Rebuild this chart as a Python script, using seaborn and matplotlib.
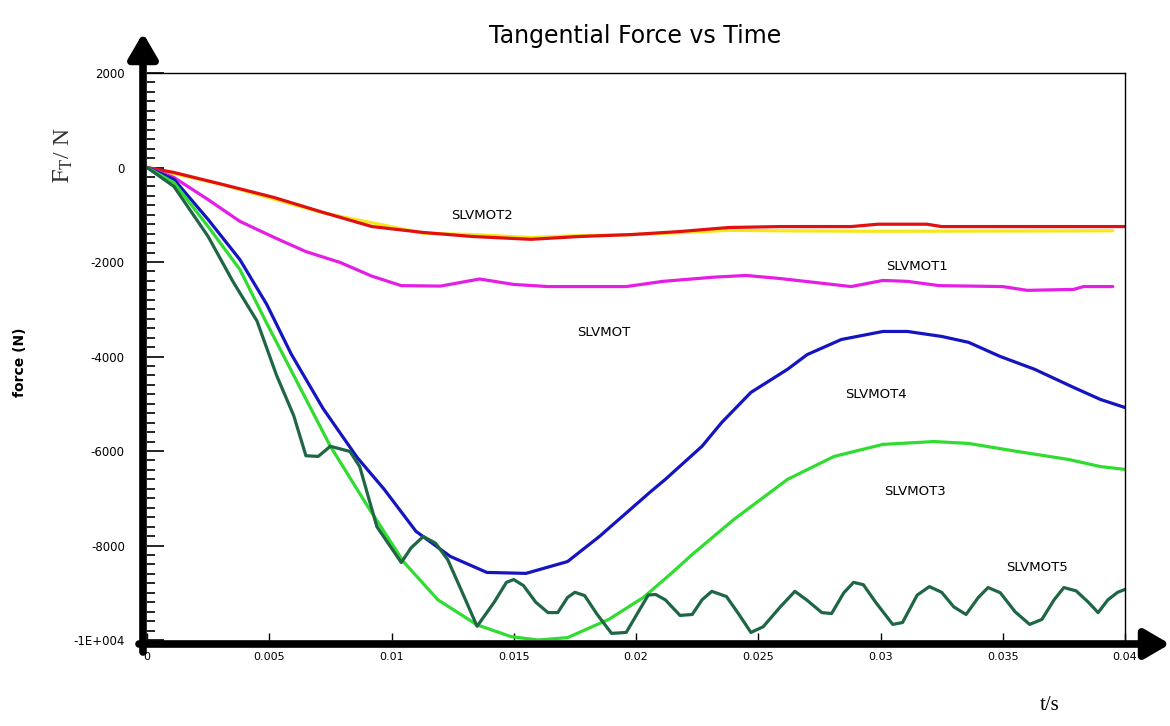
import numpy as np
import pandas as pd
import matplotlib
matplotlib.use("Agg")
import matplotlib.pyplot as plt
import seaborn as sns

# ---- data (t in s, force in N) ----
t_slvmot2 = [0, 0.0011, 0.0031, 0.0052, 0.0072, 0.0092, 0.0113, 0.0133, 0.0157, 0.0177,
             0.0198, 0.0218, 0.0238, 0.0259, 0.0288, 0.0299, 0.0319, 0.0325, 0.0400]
f_slvmot2 = [0, -105, -360, -635, -950, -1250, -1375, -1460, -1520, -1460,
             -1420, -1355, -1270, -1250, -1250, -1200, -1200, -1250, -1250]

t_slvmot = [0, 0.0031, 0.0072, 0.0113, 0.0133, 0.0157, 0.0177, 0.0198, 0.0218, 0.0238,
            0.0259, 0.0300, 0.0395]
f_slvmot = [0, -365, -960, -1390, -1420, -1480, -1440, -1420, -1380, -1330,
            -1340, -1350, -1340]

t_slvmot1 = [0, 0.0011, 0.0025, 0.0038, 0.0052, 0.0065, 0.0079, 0.0092, 0.0104, 0.0120,
             0.0136, 0.0150, 0.0164, 0.0184, 0.0196, 0.0211, 0.0232, 0.0245, 0.0259, 0.0288,
             0.0301, 0.0311, 0.0324, 0.0350, 0.0360, 0.0379, 0.0383, 0.0395]
f_slvmot1 = [0, -210, -680, -1140, -1480, -1780, -2010, -2300, -2500, -2510,
             -2360, -2475, -2520, -2520, -2520, -2410, -2320, -2285, -2350, -2520,
             -2390, -2410, -2500, -2520, -2600, -2580, -2520, -2520]

t_slvmot4 = [0, 0.0011, 0.0025, 0.0038, 0.0049, 0.0059, 0.0072, 0.0086, 0.0097, 0.0110,
             0.0124, 0.0139, 0.0155, 0.0172, 0.0185, 0.0206, 0.0212, 0.0227, 0.0235, 0.0247,
             0.0262, 0.0270, 0.0284, 0.0301, 0.0311, 0.0325, 0.0336, 0.0349, 0.0363, 0.0379,
             0.0390, 0.0400]
f_slvmot4 = [0, -250, -1100, -1950, -2900, -3950, -5100, -6140, -6810, -7700,
             -8230, -8570, -8590, -8340, -7810, -6860, -6600, -5900, -5400, -4760,
             -4270, -3960, -3640, -3470, -3470, -3575, -3700, -4000, -4270, -4655,
             -4910, -5080]

t_slvmot3 = [0, 0.0011, 0.0025, 0.0038, 0.0049, 0.0060, 0.0075, 0.0090, 0.0105, 0.0119,
             0.0135, 0.0149, 0.0160, 0.0172, 0.0189, 0.0203, 0.0214, 0.0223, 0.0240, 0.0262,
             0.0281, 0.0301, 0.0322, 0.0336, 0.0356, 0.0377, 0.0390, 0.0400]
f_slvmot3 = [0, -320, -1250, -2160, -3300, -4400, -5900, -7150, -8350, -9150,
             -9680, -9930, -10000, -9950, -9560, -9100, -8610, -8190, -7450, -6600,
             -6115, -5860, -5800, -5840, -6010, -6180, -6330, -6390]

t_slvmot5 = [0, 0.0011, 0.0025, 0.0035, 0.0045, 0.0053, 0.0060, 0.0065, 0.0070, 0.0075,
             0.0083, 0.0087, 0.0094, 0.0104, 0.0108, 0.0113, 0.0118, 0.0123, 0.0129, 0.0135,
             0.0142, 0.0147, 0.0150, 0.0154, 0.0159, 0.0164, 0.0168, 0.0172, 0.0175, 0.0179,
             0.0184, 0.0190, 0.0196, 0.0201, 0.0205, 0.0208, 0.0212, 0.0218, 0.0223, 0.0227,
             0.0231, 0.0237, 0.0242, 0.0247, 0.0252, 0.0259, 0.0265, 0.0270, 0.0276, 0.0280,
             0.0285, 0.0289, 0.0293, 0.0298, 0.0305, 0.0309, 0.0315, 0.0320, 0.0325, 0.0330,
             0.0335, 0.0340, 0.0344, 0.0349, 0.0355, 0.0361, 0.0366, 0.0371, 0.0375, 0.0380,
             0.0385, 0.0389, 0.0393, 0.0397, 0.0400]
f_slvmot5 = [0, -400, -1460, -2400, -3250, -4400, -5250, -6100, -6115, -5900,
             -6010, -6330, -7600, -8360, -8050, -7810, -7950, -8300, -9000, -9710,
             -9200, -8780, -8720, -8850, -9200, -9420, -9420, -9100, -8990, -9060,
             -9450, -9860, -9840, -9400, -9050, -9036, -9150, -9480, -9460, -9150,
             -8970, -9080, -9450, -9840, -9720, -9300, -8970, -9160, -9420, -9440,
             -9000, -8780, -8830, -9200, -9670, -9630, -9050, -8870, -8990, -9300,
             -9460, -9100, -8890, -9000, -9400, -9670, -9565, -9150, -8890, -8960,
             -9200, -9420, -9150, -8990, -8930]

series = [
    ("SLVMOT", t_slvmot, f_slvmot, "#f4e81a"),
    ("SLVMOT2", t_slvmot2, f_slvmot2, "#e01010"),
    ("SLVMOT1", t_slvmot1, f_slvmot1, "#e41ee4"),
    ("SLVMOT4", t_slvmot4, f_slvmot4, "#1414c0"),
    ("SLVMOT3", t_slvmot3, f_slvmot3, "#30dc30"),
    ("SLVMOT5", t_slvmot5, f_slvmot5, "#1e6644"),
]

# curve labels (name, t, force)
label_names = ["SLVMOT2", "SLVMOT1", "SLVMOT", "SLVMOT4", "SLVMOT3", "SLVMOT5"]
label_t = [0.0137, 0.0315, 0.0187, 0.0298, 0.0314, 0.0364]
label_f = [-1010, -2095, -3490, -4800, -6860, -8460]

y_ticks = [-10000, -8000, -6000, -4000, -2000, 0, 2000]
y_ticklabels = ["-1E+004", "-8000", "-6000", "-4000", "-2000", "0", "2000"]
x_ticks = [0, 0.005, 0.01, 0.015, 0.02, 0.025, 0.03, 0.035, 0.04]
x_ticklabels = ["0", "0.005", "0.01", "0.015", "0.02", "0.025", "0.03", "0.035", "0.04"]

sns.set_style("white")
plt.rcParams["font.family"] = ["DejaVu Sans"]
plt.rcParams["mathtext.fontset"] = "stix"
for key in ["text.color", "axes.labelcolor", "xtick.color", "ytick.color"]:
    plt.rcParams[key] = "black"

W, H = 1170, 726
fig = plt.figure(figsize=(W / 100, H / 100), dpi=100)
ax = fig.add_axes([147 / W, 1 - 640 / H, (1125 - 147) / W, (640 - 73) / H])

for name, t, f, c in series:
    df = pd.DataFrame({"t": t, "force": f})
    sns.lineplot(data=df, x="t", y="force", color=c, linewidth=2.3, ax=ax,
                 estimator=None, sort=False)

for name, t, f in zip(label_names, label_t, label_f):
    ax.text(t, f, name, fontsize=9.5, ha="center", va="center", color="black")

ax.set_xlim(0, 0.04)
ax.set_ylim(-10000, 2000)
ax.set_xticks(x_ticks)
ax.set_xticklabels(x_ticklabels, fontsize=8)
ax.set_yticks(y_ticks)
ax.set_yticklabels(y_ticklabels, fontsize=8.5)
ax.set_yticks(np.arange(-10000, 2001, 200), minor=True)
ax.tick_params(left=True, bottom=True)
ax.tick_params(axis="y", which="major", direction="in", length=12, width=1.2, pad=16)
ax.tick_params(axis="y", which="minor", left=True, direction="in", length=6, width=1.2)
ax.tick_params(axis="x", which="major", direction="in", length=5, width=1, pad=9)
ax.set_xlabel("")
ax.set_ylabel("")

for s in ["top", "right"]:
    ax.spines[s].set_color("black")
    ax.spines[s].set_linewidth(1)
for s in ["left", "bottom"]:
    ax.spines[s].set_visible(False)

# thick arrow axes
arrow_kw = dict(arrowstyle="-|>,head_length=0.6,head_width=0.35", color="black",
                lw=5.5, mutation_scale=25, shrinkA=0, shrinkB=0)
ax.annotate("", xy=(143, H - 33), xytext=(143, H - 652), xycoords="figure pixels",
            textcoords="figure pixels", arrowprops=arrow_kw)
ax.annotate("", xy=(1170, H - 644), xytext=(139, H - 644), xycoords="figure pixels",
            textcoords="figure pixels", arrowprops=arrow_kw)

fig.text(635 / W, 1 - 36 / H, "Tangential Force vs Time", fontsize=17,
         ha="center", va="center")
fig.text(20 / W, 1 - 362 / H, "force (N)", fontsize=10, fontweight="bold",
         rotation=90, ha="center", va="center")
fig.text(63 / W, 1 - 155 / H, r"$\mathrm{F_T}$/ N", fontsize=17, rotation=90,
         ha="center", va="center", family="Liberation Serif", color="#333333")
fig.text(1050 / W, 1 - 705 / H, "t/s", fontsize=15, ha="center", va="center",
         family="Liberation Serif")

fig.savefig("out.png", dpi=100, facecolor="white")
